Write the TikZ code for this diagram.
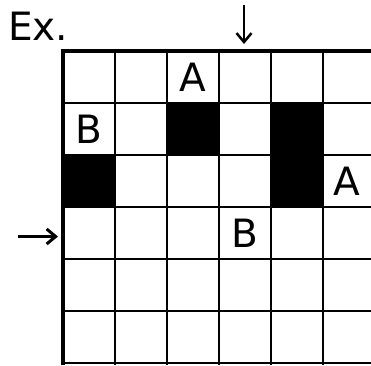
\documentclass[tikz,border=0pt]{standalone}
\usepackage{fontspec}
\setmainfont{DejaVu Sans}
\usetikzlibrary{arrows.meta}
\begin{document}
\begin{tikzpicture}[x=1pt,y=-1pt,
  gridline/.style={line width=2pt},
  border/.style={line width=4pt},
  blackcell/.style={fill=black},
  letter/.style={font=\fontsize{39}{39}\selectfont, inner sep=0pt},
  pointer/.style={line width=#1, -{Straight Barb[length=9pt,width=15pt,line width=#1]}}]
\useasboundingbox (0,0) rectangle (371,365);
\clip (0,0) rectangle (371,365);
% black cells
\fill[blackcell] (165.5,102) rectangle (219.5,156);
\fill[blackcell] (269.5,102) rectangle (323.5,208);
\fill[blackcell] (62.5,154) rectangle (115.5,208);
% thin grid lines
\foreach \x in {114.5,166.5,218.5,270.5,322.5}
  \draw[gridline] (\x,51) -- (\x,365);
\foreach \y in {103,155,207,259,311,363}
  \draw[gridline] (62.5,\y) -- (371,\y);
% thick borders
\draw[border] (60.5,51) -- (371,51);
\draw[border] (62.5,49) -- (62.5,365);
% letters
\node[letter] (a1) at (192.5,77) {A};
\node[letter] (b1) at (88.5,129) {B};
\node[letter] (a2) at (347,181) {A};
\node[letter] (b2) at (244.5,233) {B};
\node[letter, anchor=base west] (ex) at (8,40) {Ex.};
% arrows
\coordinate (dtop) at (244,5);
\coordinate (dbot) at (244,44);
\coordinate (rleft) at (18,236.5);
\coordinate (rright) at (58,236.5);
\draw[pointer=2.5pt] (dtop) -- (dbot);
\draw[pointer=3pt] (rleft) -- (rright);
\end{tikzpicture}
\end{document}
